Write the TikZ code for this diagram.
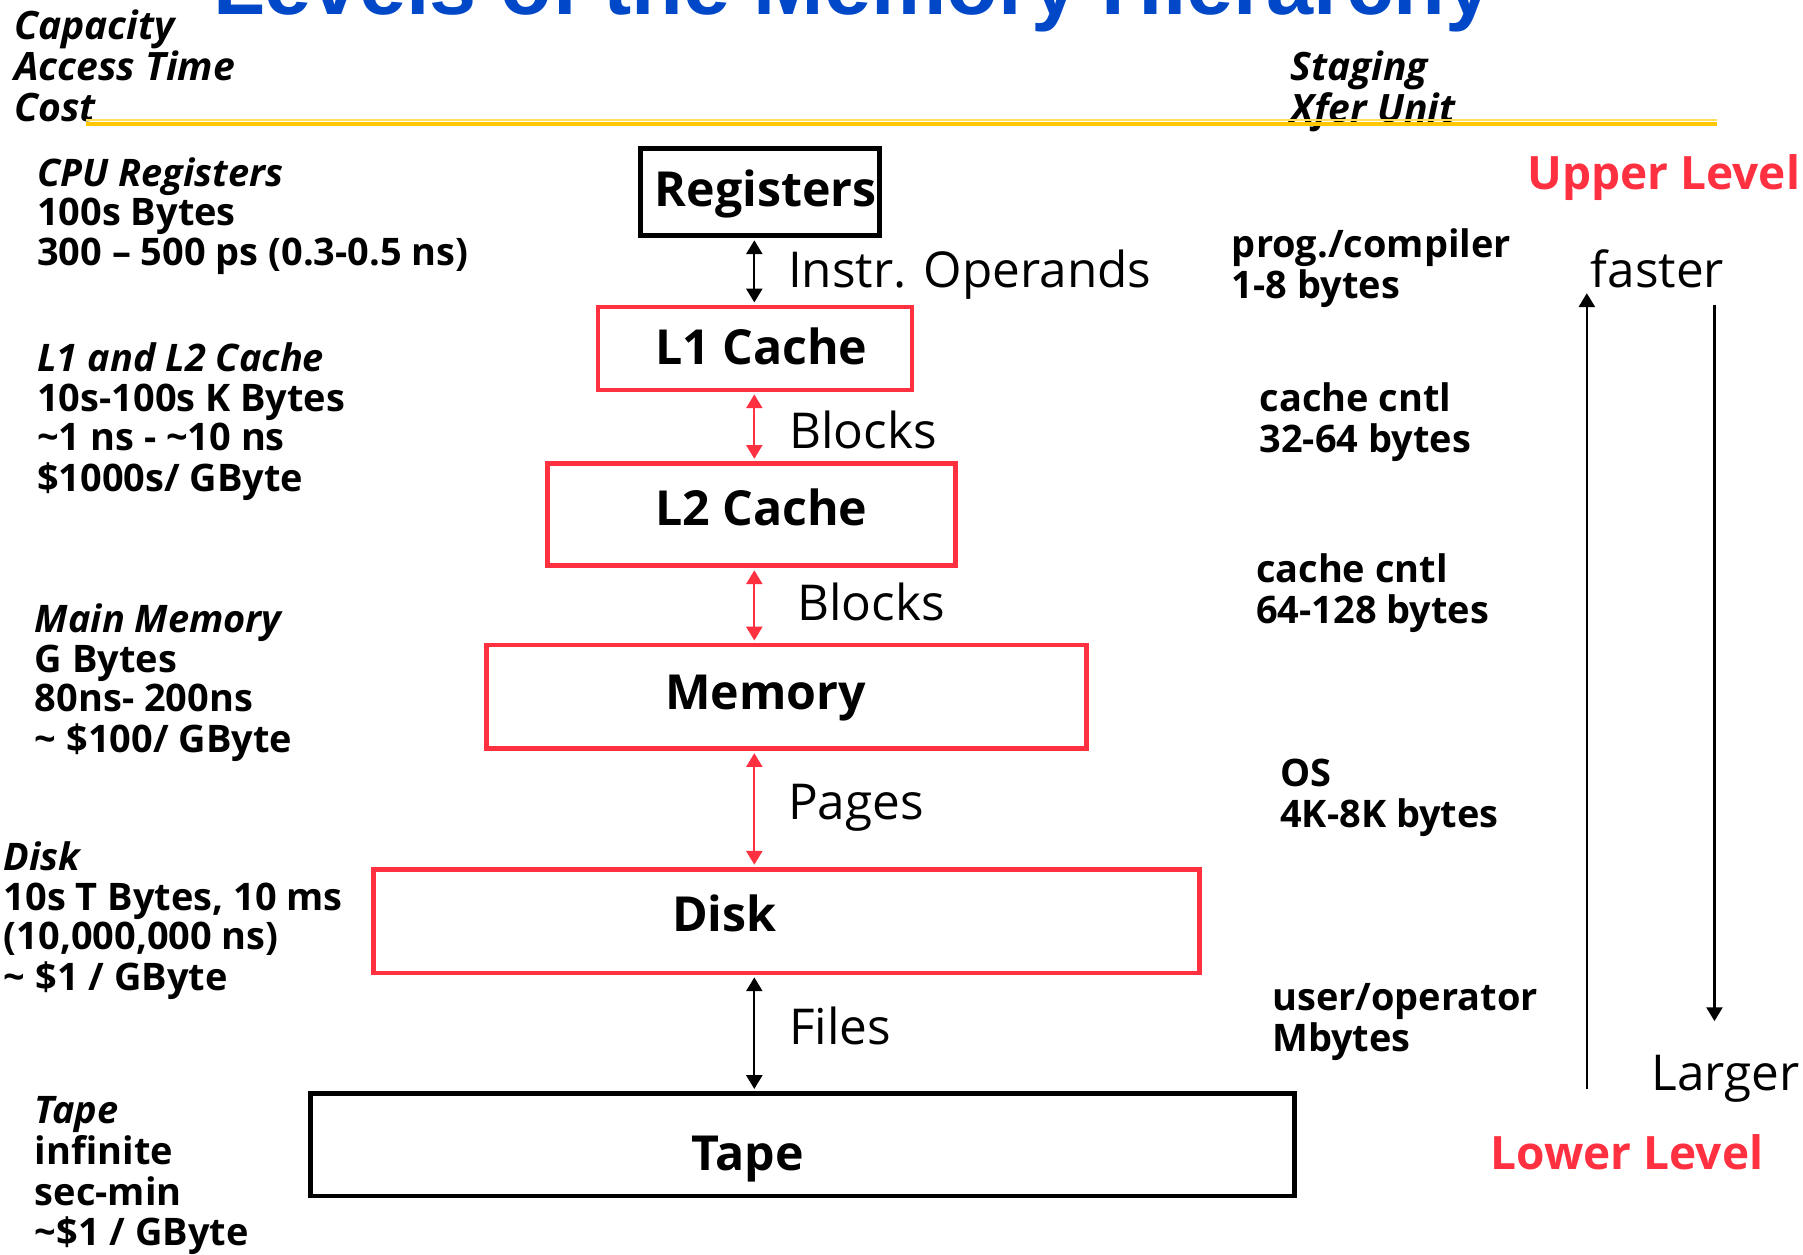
\documentclass[tikz,border=0pt]{standalone}
\usepackage{fontspec}
\setmainfont{Open Sans}
\newfontfamily\titlefont{Liberation Sans}
\usetikzlibrary{arrows.meta}
\definecolor{hred}{RGB}{255,48,64}
\definecolor{tblue}{RGB}{0,72,200}
\definecolor{gold}{RGB}{255,200,0}
\definecolor{lgold}{RGB}{255,222,90}
\newcommand{\mylines}[1]{\begin{tabular}[t]{@{}l@{}}#1\end{tabular}}
\tikzset{
  sidetxt/.style={anchor=base west, inner sep=0pt, font=\fontsize{16.5}{17.25}\selectfont\bfseries},
  headtxt/.style={anchor=base west, inner sep=0pt, font=\fontsize{17}{17.5}\selectfont\bfseries\itshape},
  lbltxt/.style={anchor=base west, inner sep=0pt, font=\fontsize{21.5}{24}\selectfont},
  boxtxt/.style={anchor=base, inner sep=0pt, font=\fontsize{21}{24}\selectfont\bfseries},
  lvltxt/.style={anchor=base west, inner sep=0pt, text=hred, font=\fontsize{20}{24}\selectfont\bfseries},
  redbox/.style={draw=hred, line width=2pt, inner sep=0pt},
  blkbox/.style={draw=black, line width=2pt, inner sep=0pt},
  tip/.style={-{Triangle[length=6pt,width=7pt]}},
  dbl/.style={{Triangle[length=6pt,width=7pt]}-{Triangle[length=6pt,width=7pt]}, line width=0.9pt, shorten <=1pt, shorten >=1pt},
}
\begin{document}
\begin{tikzpicture}[x=0.5pt,y=-0.5pt]
\useasboundingbox (0,0) rectangle (1568,1091);
\clip (0,0) rectangle (1568,1091);

% title
\node[anchor=base west, inner sep=0pt, text=tblue, font=\fontsize{36.8}{40}\selectfont\titlefont\bfseries] (title) at (185,13) {Levels of the Memory Hierarchy};

% header
\node[headtxt] (hdl) at (12,34) {\mylines{Capacity\\ Access Time\\ Cost}};
\node[headtxt, font=\fontsize{17}{17}\selectfont\bfseries\itshape] (hdr) at (1122,70) {\mylines{Staging\\ Xfer Unit}};
\coordinate (yl1) at (75,104);
\coordinate (yl2) at (1493,104);
\coordinate (yk1) at (75,107.5);
\coordinate (yk2) at (1493,107.5);
\draw[lgold, line width=0.8pt] (yl1) -- (yl2);
\draw[gold, line width=1.8pt] (yk1) -- (yk2);

% boxes
\node[blkbox, minimum width=104pt, minimum height=38pt] (reg) at (661,167) {};
\node[redbox, minimum width=136.5pt, minimum height=36pt] (l1) at (656.5,303) {};
\node[redbox, minimum width=177.5pt, minimum height=44.5pt] (l2) at (653.5,447.5) {};
\node[redbox, minimum width=261pt, minimum height=45pt] (mem) at (684,606) {};
\node[redbox, minimum width=359pt, minimum height=45pt] (disk) at (684,801) {};
\node[blkbox, minimum width=428pt, minimum height=44.5pt] (tape) at (698,995.5) {};

\node[boxtxt] (regt) at (666,180) {Registers};
\node[boxtxt] (l1t) at (662,317) {L1 Cache};
\node[boxtxt] (l2t) at (662,457) {L2 Cache};
\node[boxtxt] (memt) at (666,617) {Memory};
\node[boxtxt] (diskt) at (630,810) {Disk};
\node[boxtxt] (tapet) at (650,1018) {Tape};

% connectors
\coordinate (ax) at (656,0);
\draw[dbl, black] (reg.south -| ax) -- (l1.north -| ax);
\draw[dbl, hred] (l1.south -| ax) -- (l2.north -| ax);
\draw[dbl, hred] (l2.south -| ax) -- (mem.north -| ax);
\draw[dbl, hred] (mem.south -| ax) -- (disk.north -| ax);
\draw[dbl, black] (disk.south -| ax) -- (tape.north -| ax);

\node[lbltxt] (lb1) at (685,250) {Instr. Operands};
\node[lbltxt] (lb2) at (686,390) {Blocks};
\node[lbltxt] (lb3) at (693,540) {Blocks};
\node[lbltxt] (lb4) at (685,713) {Pages};
\node[lbltxt] (lb5) at (686,908) {Files};

% left column
\node[sidetxt] (cpu) at (32,162) {\mylines{\textit{CPU Registers}\\ 100s Bytes\\ 300 – 500 ps (0.3-0.5 ns)}};
\node[sidetxt] (cache) at (32,323) {\mylines{\textit{L1 and L2 Cache}\\ 10s-100s K Bytes\\ \textasciitilde1 ns - \textasciitilde10 ns\\ \$1000s/ GByte}};
\node[sidetxt] (mm) at (30,550) {\mylines{\textit{Main Memory}\\ G Bytes\\ 80ns- 200ns\\ \textasciitilde{} \$100/ GByte}};
\node[sidetxt] (dk) at (3,757) {\mylines{\textit{Disk}\\ 10s T Bytes, 10 ms\\ (10,000,000 ns)\\ \textasciitilde{} \$1 / GByte}};
\node[sidetxt] (tp) at (30,977) {\mylines{\textit{Tape}\\ infinite\\ sec-min\\ \textasciitilde\$1 / GByte}};

% right column
\node[sidetxt] (r1) at (1071,224) {\mylines{prog./compiler\\ 1-8 bytes}};
\node[sidetxt] (r2) at (1095,358) {\mylines{cache cntl\\ 32-64 bytes}};
\node[sidetxt] (r3) at (1092,507) {\mylines{cache cntl\\ 64-128 bytes}};
\node[sidetxt] (r4) at (1113,684) {\mylines{OS\\ 4K-8K bytes}};
\node[sidetxt] (r5) at (1106,879) {\mylines{user/operator\\ Mbytes}};

% levels
\node[lvltxt] (upper) at (1328,165) {Upper Level};
\node[lvltxt] (lower) at (1296,1017) {Lower Level};
\node[lbltxt] (faster) at (1383,250) {faster};
\node[lbltxt] (larger) at (1436,948) {Larger};
\coordinate (fa1) at (1380,947);
\coordinate (fa2) at (1380,255);
\coordinate (la1) at (1491,265);
\coordinate (la2) at (1491,888);
\draw[tip, line width=0.9pt] (fa1) -- (fa2);
\draw[tip, line width=0.9pt] (la1) -- (la2);
\end{tikzpicture}
\end{document}
